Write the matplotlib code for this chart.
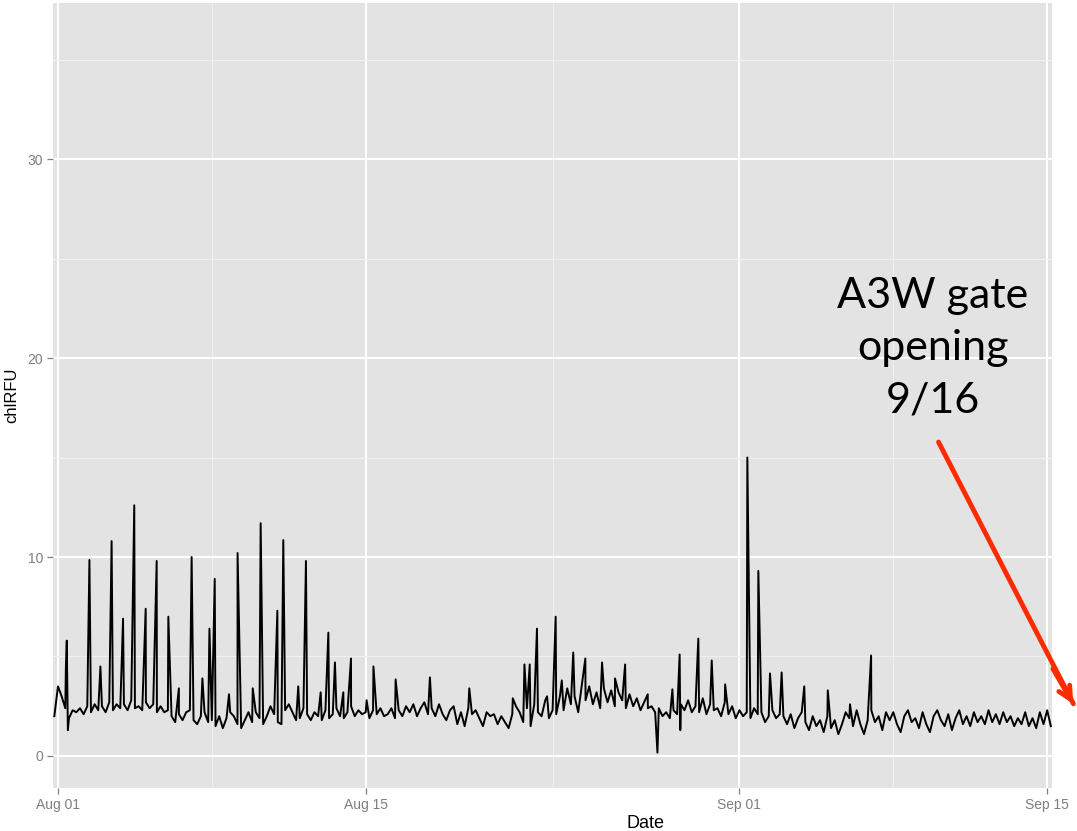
import numpy as np
import pandas as pd
import matplotlib
matplotlib.use('Agg')
import matplotlib.pyplot as plt
import matplotlib.dates as mdates

# 4-hourly baseline readings (00, 04, 08, 12, 16, 20 h), one row per day
start_time = '2013-07-31 20:00'
pre_values = [2.0]
daily_values = [
    [3.5, 3.0, 2.4, 1.9, 2.3, 2.2],  # Aug 01
    [2.4, 2.1, 2.5, 2.2, 2.6, 2.3],
    [2.5, 2.2, 2.7, 2.3, 2.6, 2.4],
    [2.6, 2.3, 2.8, 2.4, 2.5, 2.3],
    [2.7, 2.4, 2.6, 2.2, 2.5, 2.2],
    [2.3, 2.0, 1.7, 2.1, 1.8, 2.2],
    [2.3, 1.8, 1.6, 2.0, 2.2, 1.7],
    [1.8, 1.5, 2.0, 1.4, 1.9, 2.2],
    [2.0, 1.6, 1.4, 1.8, 2.2, 1.7],
    [2.2, 1.9, 1.6, 2.0, 2.5, 2.1],
    [1.7, 1.6, 2.3, 2.6, 2.2, 1.8],  # Aug 11
    [1.9, 2.4, 2.1, 1.8, 2.2, 2.0],
    [1.8, 2.3, 1.9, 2.1, 2.4, 2.0],
    [1.9, 2.2, 2.5, 2.0, 2.3, 2.1],
    [2.2, 1.9, 2.3, 2.1, 2.4, 2.0],
    [2.1, 2.4, 1.9, 2.3, 2.0, 2.5],
    [2.2, 2.6, 2.0, 2.4, 2.7, 2.1],
    [2.4, 2.0, 2.6, 2.1, 1.8, 2.3],
    [2.5, 1.6, 2.2, 1.5, 2.4, 2.1],
    [2.3, 1.9, 1.5, 2.2, 2.0, 2.1],
    [1.6, 2.0, 1.7, 1.4, 2.1, 2.5],  # Aug 21
    [2.2, 1.7, 2.4, 1.5, 2.6, 2.2],
    [2.0, 2.8, 1.9, 2.3, 2.1, 3.0],
    [2.3, 3.4, 2.6, 3.0, 2.2, 3.6],
    [2.8, 3.5, 2.6, 3.2, 2.4, 3.4],
    [2.7, 3.3, 2.5, 3.2, 2.8, 2.4],
    [3.1, 2.5, 2.9, 2.3, 2.7, 2.4],
    [2.5, 2.2, 2.4, 2.0, 2.2, 1.9],
    [2.3, 2.1, 2.6, 2.3, 2.8, 2.2],
    [2.5, 2.2, 2.9, 2.1, 2.6, 2.3],
    [2.4, 2.0, 2.7, 2.1, 2.5, 1.9],  # Aug 31
    [2.3, 2.0, 2.2, 1.9, 2.4, 2.1],  # Sep 01
    [2.2, 1.7, 2.0, 2.3, 1.9, 2.1],
    [2.0, 1.6, 2.1, 1.4, 1.9, 2.2],
    [1.7, 1.3, 2.0, 1.5, 1.8, 1.2],
    [2.0, 1.4, 1.8, 1.1, 1.6, 2.2],
    [1.9, 1.5, 2.3, 1.6, 1.1, 1.8],
    [2.3, 1.7, 2.0, 1.3, 2.2, 1.8],
    [2.2, 1.6, 1.2, 2.0, 2.3, 1.7],
    [1.9, 1.4, 2.2, 1.6, 1.2, 2.0],
    [2.3, 1.8, 1.5, 2.1, 1.3, 1.9],  # Sep 10
    [2.3, 1.6, 2.0, 1.5, 2.2, 1.7],
    [2.0, 1.6, 2.3, 1.7, 2.1, 1.6],
    [2.2, 1.7, 2.0, 1.5, 1.9, 1.6],
    [2.2, 1.5, 1.9, 1.4, 2.2, 1.6],
]
end_values = [2.3, 1.5]

# short spikes / dips, in days after Aug 01 00:00
spike_days = [0.36, 0.40, 0.45, 1.43, 1.93, 2.44, 2.96, 3.47, 3.99, 4.49,
              5.02, 5.50, 6.08, 6.57, 6.89, 7.13, 7.78, 8.17, 8.86, 9.22,
              9.98, 10.25, 10.93, 11.28, 11.95, 12.30, 12.60, 12.98, 13.33, 14.04,
              14.35, 15.36, 16.92, 18.71, 20.69, 21.22, 21.46, 21.79, 22.25, 22.64,
              22.92, 23.44, 23.99, 24.75, 25.34, 25.80, 26.83, 27.27, 27.95, 28.28,
              28.31, 29.13, 29.74, 30.35, 31.36, 31.86, 32.39, 32.92, 33.95, 35.02,
              36.03, 36.99]
spike_values = [4.5, 5.8, 1.3, 9.85, 4.5, 10.8, 6.9, 12.6, 7.4, 9.8,
                7.0, 3.4, 10.0, 3.9, 6.4, 8.9, 3.1, 10.2, 3.4, 11.7,
                7.3, 10.85, 3.5, 9.8, 3.2, 6.2, 4.7, 3.2, 4.9, 2.8,
                4.5, 3.85, 3.95, 3.4, 2.9, 4.6, 4.6, 6.4, 3.0, 7.0,
                3.8, 5.2, 4.9, 4.7, 3.9, 4.6, 3.1, 0.17, 3.35, 5.1,
                1.3, 5.9, 4.8, 3.6, 15.0, 9.3, 4.15, 4.2, 3.5, 3.3,
                2.6, 5.05]

y_ticks = [0, 10, 20, 30]
x_ticks = ['2013-08-01 00:00', '2013-08-15 00:00', '2013-09-01 00:00', '2013-09-15 00:00']
x_minor = ['2013-08-08 00:00', '2013-08-23 12:00', '2013-09-08 00:00']
note_text = 'A3W gate\nopening\n9/16'

# 组装时间序列
base_values = pre_values + [v for day in daily_values for v in day] + end_values
base_times = pd.date_range(start_time, periods=len(base_values), freq='4h')
spike_times = pd.Timestamp('2013-08-01') + pd.to_timedelta(spike_days, unit='D')
df = pd.DataFrame({
    'time': list(base_times) + list(spike_times),
    'chl': base_values + spike_values,
}).sort_values('time')

fig = plt.figure(figsize=(10.77, 8.31), dpi=100)
ax = fig.add_axes([0.0492, 0.0517, 0.9276, 0.9447])
ax.set_facecolor('#E3E3E3')
for s in ax.spines.values():
    s.set_visible(False)

ax.plot(df['time'], df['chl'], color='black', lw=1.4, zorder=3)

t0 = pd.Timestamp('2013-08-01')
ax.set_xlim(t0 - pd.Timedelta(days=0.227), t0 + pd.Timedelta(days=45.22))
ax.set_ylim(-1.61, 37.84)

ax.set_xticks(pd.to_datetime(x_ticks, format='%Y-%m-%d %H:%M'))
ax.set_xticks(pd.to_datetime(x_minor, format='%Y-%m-%d %H:%M'), minor=True)
ax.xaxis.set_major_formatter(mdates.DateFormatter('%b %d'))
ax.set_yticks(y_ticks)
ax.set_yticks([5, 15, 25, 35], minor=True)

ax.grid(which='major', color='white', lw=1.5, zorder=0)
ax.grid(which='minor', color='#F0F0F0', lw=0.8, zorder=0)
ax.set_axisbelow(True)

tick_font = ['Liberation Sans Narrow', 'Liberation Sans']
ax.tick_params(which='major', length=4, width=0.9, color='#7F7F7F',
               labelcolor='#7F7F7F', labelsize=10, pad=3)
ax.tick_params(which='minor', length=0)
for lab in ax.get_xticklabels() + ax.get_yticklabels():
    lab.set_family(tick_font)

ax.set_ylabel('chlRFU', fontsize=12, family=tick_font, labelpad=6)
ax.set_xlabel('Date', fontsize=13, family=tick_font, va='top')
ax.xaxis.set_label_coords(0.593, -0.034)

# 注释文字和箭头
ax.text(t0 + pd.Timedelta(days=39.8), 20.5, note_text, fontsize=31,
        family=['Lato', 'Open Sans'], ha='center', va='center',
        linespacing=1.45, zorder=5)
ax.annotate('', xy=(t0 + pd.Timedelta(days=46.25), 2.5),
            xytext=(t0 + pd.Timedelta(days=40.0), 15.9),
            arrowprops=dict(arrowstyle='-', color='#FF2A00', lw=3.5),
            annotation_clip=False, zorder=6)
ax.annotate('', xy=(t0 + pd.Timedelta(days=46.25), 2.5),
            xytext=(t0 + pd.Timedelta(days=45.2), 4.5),
            arrowprops=dict(arrowstyle='->,head_length=0.9,head_width=0.45', color='#FF2A00', lw=3.5),
            annotation_clip=False, zorder=6)

plt.savefig('out.png', dpi=100)
plt.close()
